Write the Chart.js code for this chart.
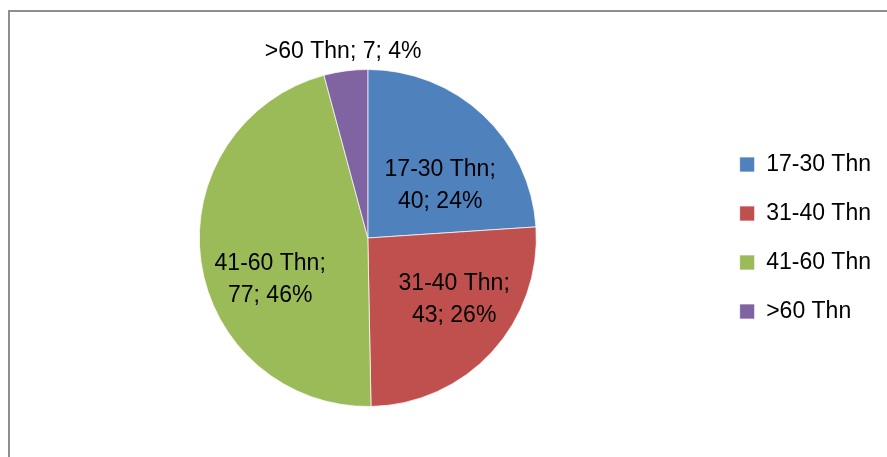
<!DOCTYPE html>
<html>
<head>
  <title>Pie Thn</title>
  <script src="https://cdn.jsdelivr.net/npm/chart.js@4/dist/chart.umd.min.js"></script>
  <style>
    body { margin: 0; background: #fff; }
    .frame {
      position: absolute; left: 8px; top: 10px;
      width: 1000px; height: 1000px;
      border: 2px solid #8e8e8e;
    }
    .wrap { position: absolute; left: 0; top: 0; width: 887px; height: 457px; }
  </style>
</head>
<body>
  <div class="frame"></div>
  <div class="wrap"><canvas id="pie" width="887" height="457"></canvas></div>
  <script>
    // data
    const categories = ['17-30 Thn', '31-40 Thn', '41-60 Thn', '>60 Thn'];
    const counts = [40, 43, 77, 7];
    const colors = ['#4F81BD', '#C0504D', '#9BBB59', '#8064A2'];

    // where each label sits: fraction of radius + angle nudge (deg), like Excel best fit
    const labelRadius = [0.53, 0.63, 0.63, 1.115];
    const labelTurn = [11, -7, -15, 0];

    const total = counts.reduce((a, b) => a + b, 0);

    const sliceLabels = {
      id: 'sliceLabels',
      afterDatasetsDraw(chart) {
        const ctx = chart.ctx;
        const meta = chart.getDatasetMeta(0);
        ctx.save();
        ctx.font = '23px "Liberation Sans", Arial, sans-serif';
        ctx.fillStyle = '#000';
        ctx.textAlign = 'center';
        ctx.textBaseline = 'middle';
        meta.data.forEach((arc, i) => {
          const p = arc.getProps(['x', 'y', 'startAngle', 'endAngle', 'outerRadius'], true);
          const mid = (p.startAngle + p.endAngle) / 2 + labelTurn[i] * Math.PI / 180;
          const r = p.outerRadius * labelRadius[i];
          const x = p.x + Math.cos(mid) * r;
          const y = p.y + Math.sin(mid) * r;
          const pct = Math.round(counts[i] / total * 100);
          let lines;
          if (labelRadius[i] > 1) {
            lines = [categories[i] + '; ' + counts[i] + '; ' + pct + '%'];
          } else {
            lines = [categories[i] + ';', counts[i] + '; ' + pct + '%'];
          }
          const lh = 32;
          lines.forEach((t, k) => {
            ctx.fillText(t, x, y + (k - (lines.length - 1) / 2) * lh);
          });
        });
        ctx.restore();
      }
    };

    new Chart(document.getElementById('pie'), {
      type: 'pie',
      data: {
        labels: categories,
        datasets: [{
          data: counts,
          backgroundColor: colors,
          borderColor: 'rgba(255,255,255,0.7)',
          borderWidth: 1
        }]
      },
      options: {
        responsive: false,
        animation: false,
        events: [],
        layout: { padding: { left: 22, top: 69, bottom: 50, right: 6 } },
        plugins: {
          tooltip: { enabled: false },
          legend: {
            position: 'right',
            labels: {
              boxWidth: 15,
              boxHeight: 15,
              padding: 26,
              color: '#000',
              font: { size: 23, family: '"Liberation Sans", Arial, sans-serif' }
            }
          }
        }
      },
      plugins: [sliceLabels]
    });
  </script>
</body>
</html>
